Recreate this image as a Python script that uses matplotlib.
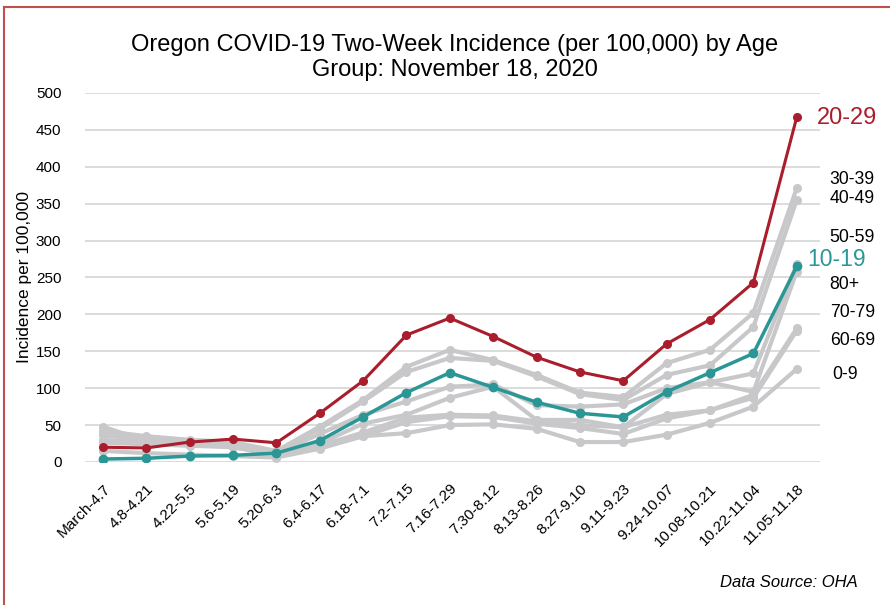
import matplotlib.pyplot as plt
from matplotlib.lines import Line2D

periods = ['March-4.7', '4.8-4.21', '4.22-5.5', '5.6-5.19', '5.20-6.3', '6.4-6.17',
           '6.18-7.1', '7.2-7.15', '7.16-7.29', '7.30-8.12', '8.13-8.26', '8.27-9.10',
           '9.11-9.23', '9.24-10.07', '10.08-10.21', '10.22-11.04', '11.05-11.18']

age_0_9 = [15, 12, 10, 8, 6, 18, 35, 39, 50, 51, 45, 27, 27, 37, 53, 75, 126]
age_10_19 = [4, 5, 8, 9, 12, 29, 61, 94, 121, 101, 81, 66, 61, 95, 121, 147, 265]
age_20_29 = [20, 19, 27, 31, 26, 66, 110, 172, 195, 170, 142, 122, 110, 160, 193, 243, 467]
age_30_39 = [42, 35, 30, 27, 15, 48, 84, 129, 152, 138, 118, 94, 88, 134, 152, 202, 371]
age_40_49 = [38, 33, 28, 25, 14, 45, 82, 122, 141, 137, 116, 92, 84, 118, 131, 183, 355]
age_50_59 = [36, 30, 28, 24, 12, 38, 64, 82, 102, 105, 77, 75, 78, 100, 108, 120, 268]
age_60_69 = [26, 24, 22, 20, 10, 20, 35, 54, 62, 61, 52, 46, 38, 59, 70, 87, 178]
age_70_79 = [30, 26, 24, 22, 11, 22, 40, 60, 64, 63, 55, 50, 47, 64, 70, 91, 181]
age_80_plus = [48, 28, 25, 20, 10, 25, 52, 64, 87, 102, 57, 57, 47, 92, 108, 95, 258]

red = '#a91d2c'
teal = '#2a9696'
gray = '#c8c8ca'

plt.rcParams['font.family'] = ['Liberation Sans', 'DejaVu Sans']

fig = plt.figure(figsize=(8.9, 6.05), dpi=100)
ax = fig.add_axes([0.0955, 0.2364, 0.8255, 0.6099])

x = list(range(len(periods)))
grays = [age_0_9, age_30_39, age_40_49, age_50_59, age_60_69, age_70_79, age_80_plus]
for s in grays:
    ax.plot(x, s, color=gray, lw=3, marker='o', ms=5.5, zorder=2)
ax.plot(x, age_10_19, color=teal, lw=2.5, marker='o', ms=6, zorder=3)
ax.plot(x, age_20_29, color=red, lw=2.2, marker='o', ms=5.5, zorder=4)

ax.set_xlim(-0.415, 16.53)
ax.set_ylim(0, 500)
ax.set_yticks(range(0, 501, 50))
ax.set_xticks(x)
ax.set_xticklabels(periods, rotation=45, ha='right', rotation_mode='anchor', fontsize=11)
ax.tick_params(axis='both', length=0, labelsize=11)
ax.tick_params(axis='y', pad=17)
ax.tick_params(axis='x', pad=14)
ax.grid(axis='y', color='#d9d9d9', lw=1.3)
ax.set_axisbelow(True)
for sp in ax.spines.values():
    sp.set_visible(False)
ax.set_ylabel('Incidence per 100,000', fontsize=12.5)
ax.yaxis.set_label_coords(-0.072, 0.5)

# end-of-line labels
end_labels = [('20-29', 16.46, 466, red, 17),
              ('30-39', 16.76, 383, 'black', 12.7),
              ('40-49', 16.76, 357, 'black', 12.7),
              ('50-59', 16.76, 304, 'black', 12.7),
              ('10-19', 16.25, 274, teal, 16.5),
              ('80+', 16.76, 240, 'black', 12.7),
              ('70-79', 16.76, 202, 'black', 12.7),
              ('60-69', 16.76, 164, 'black', 12.7),
              ('0-9', 16.83, 118, 'black', 12.7)]
for txt, lx, ly, c, fs in end_labels:
    ax.text(lx, ly, txt, color=c, fontsize=fs, va='center', ha='left', clip_on=False)

fig.text(0.511, 0.905, 'Oregon COVID-19 Two-Week Incidence (per 100,000) by Age\nGroup: November 18, 2020',
         ha='center', va='center', fontsize=17, linespacing=1.15)
fig.text(0.964, 0.038, 'Data Source: OHA', ha='right', va='center', fontsize=12, style='italic')

# slide border
border = '#c0504d'
fig.add_artist(Line2D([4 / 890, 4 / 890], [0, 1 - 7 / 605], color=border, lw=1.5, transform=fig.transFigure))
fig.add_artist(Line2D([4 / 890, 1], [1 - 7 / 605, 1 - 7 / 605], color=border, lw=1.5, transform=fig.transFigure))

fig.savefig('out.png', dpi=100)
